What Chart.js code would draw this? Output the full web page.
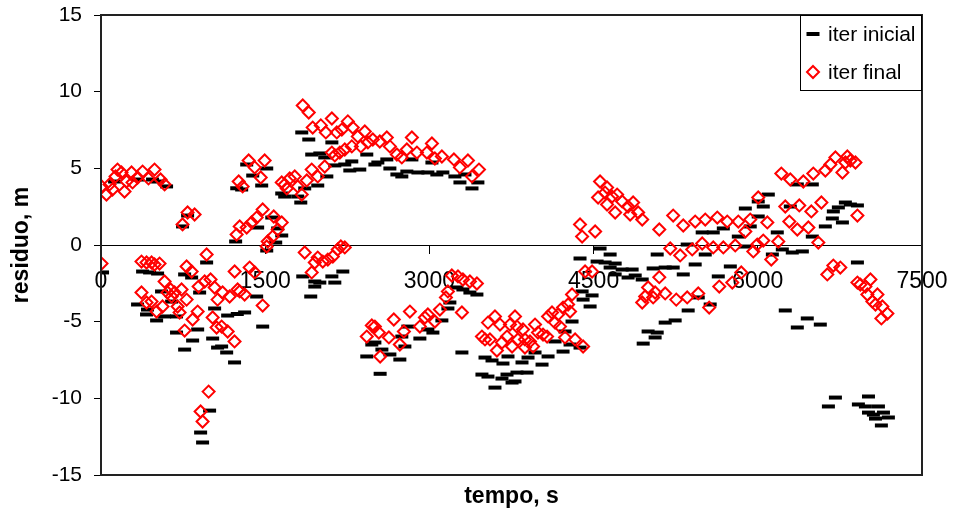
<!DOCTYPE html>
<html>
<head>
<meta charset="utf-8">
<title>residuo x tempo</title>
<script src="https://cdn.jsdelivr.net/npm/chart.js@4.4.1/dist/chart.umd.min.js"></script>
<style>
    html, body { margin: 0; padding: 0; background: #fff; }
    #wrap { width: 956px; height: 515px; }
</style>
</head>
<body>
<div id="wrap"><canvas id="residuoChart" width="956" height="515"></canvas></div>
<script>
// tick values of the axes
const tempoTicks = [0, 1500, 3000, 4500, 6000, 7500];
const residuoTicks = [-15, -10, -5, 0, 5, 10, 15];

// series "iter inicial" (time in s, residual in m)
const tInicial = [
    14, 599, 517, 124, 334, 471, 745, 791, 1240, 1230,
    380, 444, 517, 334, 425, 416, 508, 581, 553, 645,
    690, 690, 764, 837, 764, 828, 883, 901, 965, 1020,
    1038, 1065, 1102, 1148, 1157, 1220, 1245, 992, 910, 928,
    1834, 1898, 2109, 1925, 1999, 2044, 2136, 2227, 2291, 2273,
    2364, 2428, 2502, 1331, 1514, 1386, 1468, 1285, 1651, 1678,
    1797, 1825, 1861, 1980, 2063, 1560, 1614, 1651, 1596, 1514,
    1431, 1843, 1953, 1999, 1953, 2109, 2136, 2209, 1916, 1312,
    1422, 1477, 2428, 2474, 2550,
    2529, 2611, 2639, 2703, 2748, 2794, 2840, 2895, 2986, 3023,
    3068, 3123, 3233, 3279, 3325, 3389, 3443,
    2502, 2566, 2639, 2730, 2776, 2748, 2803, 2913, 2986, 3032,
    3114, 3169, 3187, 3251, 3306, 3370, 3434, 3297, 3508, 3572,
    3672, 3718, 3480, 3535, 3599, 3663, 3709, 3755, 3800,
    4559, 4651, 4376, 4532, 4605, 4697, 4651, 4761, 4852, 4880,
    4815, 4944, 4697, 5081, 5044, 4395, 4486, 4404, 4468, 4303,
    4239, 4148, 4221, 4376, 4285, 4084, 3965, 3901, 3846, 4029,
    3892, 3782, 4998, 5062, 4953,
    5154, 5227, 5319, 5428, 5520, 5355, 5492, 5593, 5685, 5749,
    5639, 5822, 5886, 5886, 5931, 6004, 6050, 6096, 6004, 6178,
    6133, 6224, 6315, 6361, 6297, 5456, 5565, 5364, 5245, 5154,
    5081, 6251, 6361,
    6498, 6800, 6846, 6910, 6736, 6690, 6681, 6773, 6617, 6498,
    6407, 6910, 6452, 6571, 6709, 6645, 7011, 6919, 6983, 7102,
    7011, 7056, 7148, 7193, 7129, 7075
];
const rInicial = [
    -1.79, 3.82, 4.14, 4.14, 4.27, 4.27, 1.21, 1.92, 3.70, 0.23,
    -1.73, -1.79, -1.86, -3.88, -4.21, -4.53, -4.92, -4.66, -3.03, -3.69,
    -4.66, -5.71, -6.82, -6.23, -1.92, -2.12, -5.51, -3.10, -1.14, -6.10,
    -4.14, -6.69, -6.62, -7.01, -4.60, -7.66, -4.50, -10.80, -12.23, -12.88,
    7.34, 6.88, 6.69, 5.90, 5.97, 5.71, 5.19, 5.25, 5.45, 4.86,
    4.92, 5.90, 5.25, 5.25, 4.99, 4.53, 3.88, 3.62, 3.36, 3.16,
    3.16, 2.77, 3.69, 3.88, 4.47, 1.79, 1.08, 0.62, 0.16, -0.36,
    1.14, -2.05, -2.38, -2.45, -2.71, -2.05, -2.45, -1.73, -3.36, -4.40,
    -3.36, -5.32, -7.27, -6.49, -8.40,
    5.38, 5.58, 4.99, 4.60, 4.47, 4.79, 5.58, 4.73, 4.73, 5.38,
    4.60, 4.73, 4.47, 4.08, 4.60, 3.69, 4.08,
    -6.36, -6.82, -7.14, -7.47, -6.62, -5.97, -5.32, -6.10, -5.51, -5.71,
    -4.92, -4.14, -3.75, -2.77, -2.90, -3.10, -3.23, -7.01, -7.34, -7.53,
    -7.73, -7.27, -8.45, -8.58, -9.30, -8.71, -8.45, -8.97, -8.32,
    -0.23, -0.62, -0.88, -1.08, -1.14, -1.21, -1.47, -1.60, -1.60, -1.99,
    -2.12, -2.25, -1.92, -0.62, -1.53, -3.03, -3.29, -3.56, -4.01, -4.99,
    -5.64, -6.29, -6.95, -6.69, -6.49, -7.27, -7.01, -7.34, -7.66, -7.80,
    -8.32, -8.90, -5.64, -6.03, -6.43,
    -1.47, -1.47, -1.92, -1.27, -0.62, 0.03, 0.82, 0.82, 1.08, -1.40,
    -2.05, 0.55, -0.10, 2.38, 1.21, 1.86, 2.51, 3.29, 2.84, 0.82,
    -0.62, -0.29, -0.49, 3.95, 2.51, -3.42, -3.88, -4.27, -4.92, -5.06,
    -5.71, -4.27, -5.38,
    3.95, 2.77, 2.64, 2.58, 2.45, 2.19, 1.73, 1.47, 1.21, 0.55,
    -0.42, -1.14, -4.79, -5.19, -9.95, -10.53, -9.88, -10.40, -10.53, -10.53,
    -10.93, -11.06, -10.93, -11.25, -11.77, -11.32
];

// series "iter final"
const tFinal = [
    5, 50, 78, 105, 133, 151, 187, 215, 233, 279,
    288, 334, 380, 434, 489, 544, 581, 745, 791, 855,
    5, 370, 416, 462, 489, 535, 370, 416, 462, 508,
    562, 581, 608, 636, 645, 672, 700, 718, 736, 782,
    764, 782, 828, 837, 883, 892, 947, 965, 1001, 1038,
    1020, 1065, 1056, 1102, 1111, 1157, 1175, 1220, 1221, 1248,
    983, 910, 928, 1258, 1294, 1239, 1267, 1331, 1376, 1422,
    1477, 1349, 1404, 1495, 1459, 1578, 1651, 1614, 1569, 1523,
    1514, 1861, 1925, 1953, 1980, 2026, 2072, 2118, 2163, 2191,
    2227, 1358, 1404, 1267, 1312, 1477, 2428, 2474, 2550,
    1843, 1898, 1934, 2008, 2054, 2109, 2154, 2200, 2255, 2300,
    2346, 2410, 2483, 2438, 2374, 2291, 2227, 2182, 2136, 2109,
    2044, 1980, 1925, 1880, 1797, 1770, 1724, 1678, 1651, 1697,
    1834,
    2547, 2611, 2639, 2703, 2748, 2794, 2840, 2886, 2977, 3023,
    3050, 3114, 3224, 3279, 3352, 3389, 3453,
    2502, 2538, 2630, 2675, 2730, 2767, 2822, 2913, 2959, 2986,
    3050, 3096, 3151, 3169, 3205, 3261, 3306, 3370, 3434, 3297,
    3480, 3508, 3535, 3553, 3599, 3617, 3645, 3663, 3709, 3736,
    3755, 3782, 3809,
    4559, 4623, 4541, 4605, 4669, 4715, 4623, 4697, 4761, 4815,
    4861, 4834, 4907, 4944, 4376, 4395, 4514, 5100, 4422, 4486,
    4303, 4267, 4221, 4175, 4120, 4084, 4148, 4193, 4285, 4239,
    4331, 4404, 3965, 3992, 4038, 3947, 3919, 3873, 3800, 3855,
    4075, 3873, 4998, 4971, 5044, 4944, 5100,
    5227, 5319, 5428, 5520, 5630, 5721, 5822, 5931, 5886, 6004,
    6087, 6215, 6297, 6251, 6288, 6361, 5200, 5291, 5401, 5492,
    5593, 5685, 5794, 5959, 5995, 6050, 6187, 6123, 5062, 5154,
    5255, 5355, 5456, 5556, 5648, 5767, 5849,
    6416, 6507, 6617, 6663, 6709, 6773, 6800, 6818, 6846, 6892,
    6910, 6379, 6489, 6581, 6462, 6553, 6635, 6690, 6754, 6910,
    6937, 6983, 7029, 7001, 7047, 7093, 7075, 7138, 7184, 7129
];
const rFinal = [
    3.82, 3.29, 3.95, 3.62, 4.47, 4.92, 4.73, 3.49, 4.14, 4.73,
    4.08, 4.40, 4.79, 4.34, 4.92, 4.27, 3.95, 1.34, 2.12, 1.99,
    -1.21, -1.08, -1.14, -1.14, -1.27, -1.21, -3.10, -3.75, -3.69, -4.34,
    -4.01, -2.38, -3.10, -2.90, -3.36, -3.10, -4.01, -4.40, -2.90, -3.56,
    -5.58, -1.40, -1.73, -4.86, -4.34, -2.71, -2.38, -0.62, -2.25, -2.77,
    -4.73, -3.56, -5.38, -5.32, -3.10, -5.64, -3.36, -6.29, -1.73, -2.90,
    -9.56, -10.86, -11.51, 4.14, 3.82, 0.68, 1.21, 1.14, 1.47, 1.79,
    2.32, 5.51, 5.06, 5.51, 4.40, 1.86, 1.47, 1.01, 0.55, 0.23,
    -0.10, -0.49, -1.79, -1.14, -0.82, -1.08, -0.95, -0.75, -0.29, -0.10,
    -0.16, -1.47, -1.79, -3.03, -3.23, -3.95, -5.97, -5.25, -7.27,
    9.10, 8.64, 7.66, 7.80, 7.34, 8.25, 7.34, 7.53, 8.06, 7.66,
    7.08, 7.40, 6.88, 6.69, 6.43, 6.43, 6.23, 6.03, 5.84, 6.03,
    5.12, 4.47, 4.92, 4.21, 3.82, 4.47, 4.34, 3.95, 4.08, 3.69,
    3.29,
    6.75, 7.01, 6.43, 5.90, 5.71, 6.23, 7.01, 6.03, 6.03, 6.62,
    5.64, 5.77, 5.58, 5.06, 5.51, 4.47, 4.92,
    -5.32, -5.71, -6.03, -4.86, -6.49, -5.64, -4.34, -5.32, -4.73, -4.53,
    -4.99, -4.21, -3.42, -3.03, -1.99, -2.05, -2.25, -2.38, -2.51, -4.40,
    -5.97, -6.16, -5.06, -6.16, -4.66, -6.88, -5.19, -6.36, -5.97, -5.19,
    -6.62, -4.66, -6.16,
    4.14, 3.75, 3.10, 3.42, 3.16, 3.29, 2.64, 2.12, 2.84, 2.51,
    2.77, 1.99, 2.12, 1.66, 1.34, 0.55, 0.88, 1.01, -1.73, -1.73,
    -3.23, -3.88, -4.08, -4.53, -4.40, -4.66, -5.06, -5.32, -4.34, -6.03,
    -6.16, -6.62, -5.19, -5.71, -5.84, -6.62, -6.29, -6.16, -5.32, -5.51,
    -5.97, -6.69, -2.77, -3.36, -3.42, -3.75, -2.10,
    1.92, 1.27, 1.53, 1.66, 1.79, 1.53, 1.53, 1.66, 0.88, 3.10,
    1.47, 4.66, 4.27, 2.51, 1.53, 1.01, -0.23, -0.68, -0.29, 0.10,
    -0.16, -0.16, -0.03, -0.42, 0.03, 0.29, 0.23, -0.95, -3.10, -3.16,
    -3.56, -3.42, -3.16, -4.08, -2.71, -2.45, -1.79,
    4.14, 4.66, 4.86, 5.25, 5.71, 4.73, 5.38, 5.77, 5.51, 5.38,
    1.92, 2.58, 2.19, 2.77, 1.14, 0.16, -1.92, -1.34, -1.47, -2.45,
    -2.58, -2.71, -2.25, -3.23, -3.69, -3.23, -3.88, -4.01, -4.47, -4.79
];

const FONT = "'Liberation Sans', Arial, sans-serif";

function toPoints(xs, ys) {
    return xs.map((x, i) => ({ x: x, y: ys[i] }));
}

// black frame round the plot area
const framePlugin = {
    id: 'frame',
    afterDatasetsDraw(chart) {
        const a = chart.chartArea;
        const ctx = chart.ctx;
        ctx.save();
        ctx.strokeStyle = '#222';
        ctx.lineWidth = 2;
        ctx.strokeRect(a.left, a.top, a.right - a.left, a.bottom - a.top);
        ctx.restore();
    }
};

// boxed legend in the upper right corner, like the excel one
const boxLegendPlugin = {
    id: 'boxLegend',
    afterDraw(chart) {
        const a = chart.chartArea;
        const ctx = chart.ctx;
        const w = 122, h = 76;
        const x0 = a.right - w, y0 = a.top;
        ctx.save();
        ctx.fillStyle = '#fff';
        ctx.fillRect(x0, y0, w, h);
        ctx.strokeStyle = '#000';
        ctx.lineWidth = 1;
        ctx.strokeRect(x0 + 0.5, y0 + 0.5, w - 1, h - 1);

        const sets = chart.data.datasets;
        const rows = [y0 + 19, y0 + 57];
        ctx.font = '21px ' + FONT;
        ctx.textBaseline = 'middle';
        sets.forEach((ds, i) => {
            const cy = rows[i];
            const cx = x0 + 13;
            if (ds.pointStyle === 'line') {
                ctx.fillStyle = ds.borderColor;
                ctx.fillRect(cx - 6.5, cy - 2, 13, 4);
            } else {
                const r = ds.pointRadius;
                ctx.beginPath();
                ctx.moveTo(cx, cy - r);
                ctx.lineTo(cx + r, cy);
                ctx.lineTo(cx, cy + r);
                ctx.lineTo(cx - r, cy);
                ctx.closePath();
                ctx.strokeStyle = ds.borderColor;
                ctx.lineWidth = ds.pointBorderWidth;
                ctx.stroke();
            }
            ctx.fillStyle = '#000';
            ctx.fillText(ds.label, x0 + 28, cy + 1);
        });
        ctx.restore();
    }
};

function buildChart() {
    const ctx = document.getElementById('residuoChart').getContext('2d');
    return new Chart(ctx, {
        type: 'scatter',
        data: {
            datasets: [{
                label: 'iter inicial',
                data: toPoints(tInicial, rInicial),
                pointStyle: 'line',
                pointRadius: 6.5,
                pointHoverRadius: 6.5,
                pointBorderWidth: 4,
                borderColor: '#000',
                backgroundColor: '#000',
                order: 1
            }, {
                label: 'iter final',
                data: toPoints(tFinal, rFinal),
                pointStyle: 'rectRot',
                pointRadius: 6,
                pointHoverRadius: 6,
                pointBorderWidth: 2,
                borderColor: '#ff0000',
                backgroundColor: 'rgba(0,0,0,0)',
                order: 0
            }]
        },
        options: {
            responsive: false,
            animation: false,
            devicePixelRatio: 1,
            layout: { padding: { top: 15, right: 34, bottom: 0, left: 0 } },
            plugins: {
                legend: { display: false },
                tooltip: { enabled: false }
            },
            scales: {
                x: {
                    type: 'linear',
                    position: { y: 0 },
                    min: tempoTicks[0],
                    max: tempoTicks[tempoTicks.length - 1],
                    afterBuildTicks: s => { s.ticks = tempoTicks.map(v => ({ value: v })); },
                    // labels sit on the zero line, so take no room from the layout
                    afterFit: s => {
                        s.height = 0;
                        s.paddingLeft = 0;
                        s.paddingRight = 0;
                    },
                    ticks: {
                        color: '#000',
                        font: { size: 23, family: FONT },
                        padding: 15,
                        maxRotation: 0,
                        autoSkip: false,
                        callback: v => String(v)
                    },
                    grid: { drawOnChartArea: false, drawTicks: true, tickLength: 8, color: '#000' },
                    border: { display: true, color: '#000', width: 1 }
                },
                x2: {
                    type: 'linear',
                    position: 'bottom',
                    min: 0,
                    max: 7500,
                    afterFit: s => { s.height = 40; },
                    ticks: { display: false },
                    grid: { display: false, drawTicks: false },
                    border: { display: false },
                    title: {
                        display: true,
                        text: 'tempo, s',
                        color: '#000',
                        font: { size: 23, weight: 'bold', family: FONT },
                        padding: { top: 0, bottom: 5 }
                    }
                },
                y: {
                    type: 'linear',
                    min: residuoTicks[0],
                    max: residuoTicks[residuoTicks.length - 1],
                    afterBuildTicks: s => { s.ticks = residuoTicks.map(v => ({ value: v })); },
                    afterFit: s => {
                        s.width = 101;
                        s.paddingTop = 0;
                        s.paddingBottom = 0;
                    },
                    ticks: {
                        color: '#000',
                        font: { size: 21, family: FONT },
                        padding: 12,
                        callback: v => String(v)
                    },
                    grid: { drawOnChartArea: false, drawTicks: true, tickLength: 7, color: '#000' },
                    border: { display: true, color: '#000', width: 2 },
                    title: {
                        display: true,
                        text: 'residuo, m',
                        color: '#000',
                        font: { size: 23, weight: 'bold', family: FONT },
                        padding: { top: 8, bottom: 0 }
                    }
                }
            }
        },
        plugins: [framePlugin, boxLegendPlugin]
    });
}

buildChart();
</script>
</body>
</html>
